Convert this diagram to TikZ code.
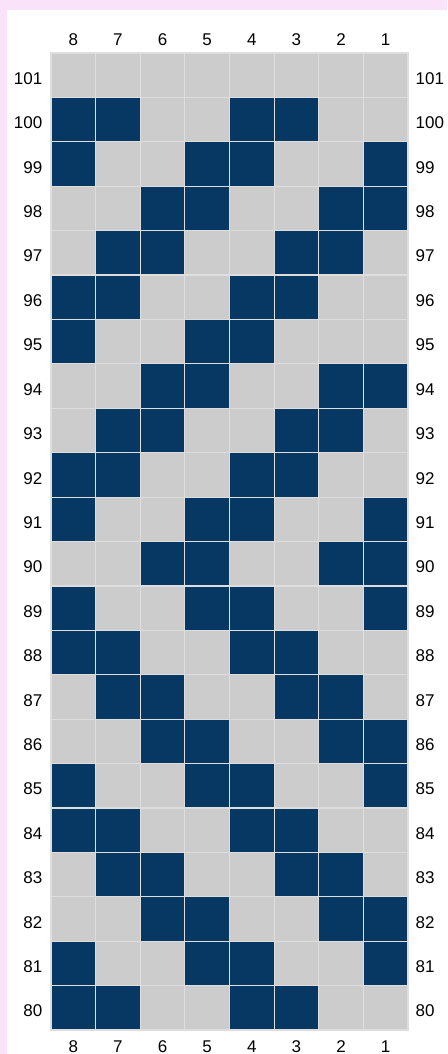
\documentclass[tikz,border=0pt]{standalone}
\usepackage{fontspec}
\setmainfont{Liberation Sans}
\definecolor{pagepink}{RGB}{251,226,251}
\definecolor{cellnavy}{RGB}{7,55,99}
\definecolor{cellgray}{RGB}{204,204,204}
\definecolor{cellline}{RGB}{222,222,222}

\begin{document}
\begin{tikzpicture}[x=1pt,y=-1pt]
\tikzset{every node/.style={font=\fontsize{17}{20}\selectfont,inner sep=0pt}}
\tikzset{cell/.style={draw=cellline,line width=1.2pt}}
\tikzset{rowlab/.style={anchor=east}}
\tikzset{rowlabr/.style={anchor=west}}

% page
\fill[pagepink] (0,0) rectangle (447,1054);
\fill[white] (7,10) rectangle (447,1054);
\useasboundingbox (0,0) rectangle (447,1054);

% cells
\foreach \r/\bits [count=\i from 0] in {
 101/{0,0,0,0,0,0,0,0}, 100/{1,1,0,0,1,1,0,0}, 99/{1,0,0,1,1,0,0,1},
 98/{0,0,1,1,0,0,1,1}, 97/{0,1,1,0,0,1,1,0}, 96/{1,1,0,0,1,1,0,0},
 95/{1,0,0,1,1,0,0,0}, 94/{0,0,1,1,0,0,1,1}, 93/{0,1,1,0,0,1,1,0},
 92/{1,1,0,0,1,1,0,0}, 91/{1,0,0,1,1,0,0,1}, 90/{0,0,1,1,0,0,1,1},
 89/{1,0,0,1,1,0,0,1}, 88/{1,1,0,0,1,1,0,0}, 87/{0,1,1,0,0,1,1,0},
 86/{0,0,1,1,0,0,1,1}, 85/{1,0,0,1,1,0,0,1}, 84/{1,1,0,0,1,1,0,0},
 83/{0,1,1,0,0,1,1,0}, 82/{0,0,1,1,0,0,1,1}, 81/{1,0,0,1,1,0,0,1},
 80/{1,1,0,0,1,1,0,0}}
{
  \foreach \b [count=\j from 0] in \bits {
    \ifnum\b=1 \def\cellcol{cellnavy}\else\def\cellcol{cellgray}\fi
    \draw[cell,fill=\cellcol] (51+\j*44.625,53+\i*44.41) rectangle ++(44.625,44.41);
  }
  \node[rowlab] (L\r) at (42.5,78.5+\i*44.41) {\r};
  \node[rowlabr] (R\r) at (415.5,78.5+\i*44.41) {\r};
}

% column labels
\foreach \c [count=\j from 0] in {8,7,6,5,4,3,2,1} {
  \node (T\c) at (73.3+\j*44.625,39.5) {\c};
  \node (B\c) at (73.3+\j*44.625,1046.5) {\c};
}
\end{tikzpicture}
\end{document}
